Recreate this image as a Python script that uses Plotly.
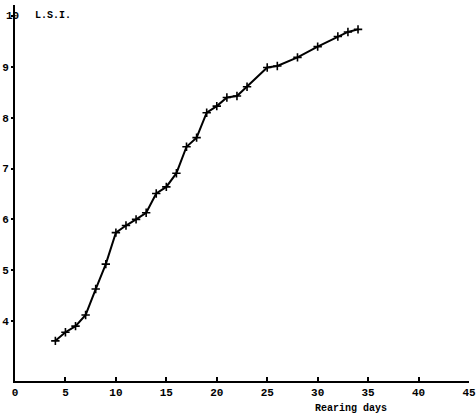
import plotly.graph_objects as go

# Rearing days vs L.S.I.
days = [4, 5, 6, 7, 8, 9, 10, 11, 12, 13, 14, 15, 16, 17, 18, 19, 20,
        21, 22, 23, 25, 26, 28, 30, 32, 33, 34]
lsi = [3.61, 3.78, 3.90, 4.12, 4.63, 5.12, 5.74, 5.88, 6.00, 6.13, 6.51,
       6.64, 6.91, 7.43, 7.61, 8.10, 8.23, 8.40, 8.43, 8.61, 8.99, 9.02,
       9.19, 9.40, 9.60, 9.69, 9.74]

x_ticks = [0, 5, 10, 15, 20, 25, 30, 35, 40, 45]
y_ticks = [4, 5, 6, 7, 8, 9, 10]

font_family = "Liberation Mono"
tick_font = dict(family=font_family, size=11, color="black", weight="bold")

fig = go.Figure()
fig.add_trace(go.Scatter(
    x=days, y=lsi, mode="lines+markers",
    line=dict(color="black", width=2),
    marker=dict(symbol="cross-thin", size=6, line=dict(color="black", width=1.6)),
    showlegend=False,
))

fig.update_xaxes(
    range=[0, 45], tickvals=x_ticks, showgrid=False, zeroline=False,
    showline=True, linecolor="black", linewidth=2,
    ticks="inside", ticklen=4, tickwidth=1.5, tickcolor="black",
    tickfont=tick_font, ticklabeloverflow="allow",
    automargin=False,
)
# top label "10" sits over the axis line in the original, so it is drawn separately
fig.update_yaxes(
    range=[2.82, 10.22], tickvals=y_ticks,
    ticktext=[str(v) for v in y_ticks[:-1]] + [""],
    showgrid=False, zeroline=False,
    showline=True, linecolor="black", linewidth=2,
    ticks="outside", ticklen=2, tickwidth=1.5, tickcolor="black",
    tickfont=tick_font, ticklabelstandoff=0, ticklabeloverflow="allow",
    automargin=False,
)
fig.add_annotation(x=0, y=y_ticks[-1], xref="x", yref="y", text=str(y_ticks[-1]),
                   showarrow=False, xanchor="center", yanchor="middle", xshift=-3,
                   font=tick_font)

fig.add_annotation(x=0.039, y=0.973, xref="paper", yref="paper", text="L.S.I.",
                   showarrow=False, xanchor="left", yanchor="middle",
                   font=dict(family=font_family, size=10, color="black", weight="bold"))
fig.add_annotation(x=0.739, y=-0.072, xref="paper", yref="paper", text="Rearing days",
                   showarrow=False, xanchor="center", yanchor="middle",
                   font=dict(family=font_family, size=10, color="black", weight="bold"))

fig.update_layout(
    width=476, height=418, template="none",
    paper_bgcolor="white", plot_bgcolor="white",
    margin=dict(l=15, r=7, t=5, b=37),
)

# drop the browser's default body margin so the figure sits at the window origin
fig.write_html("out.html", config={"displayModeBar": False},
               post_script="document.body.style.margin='0px';")
